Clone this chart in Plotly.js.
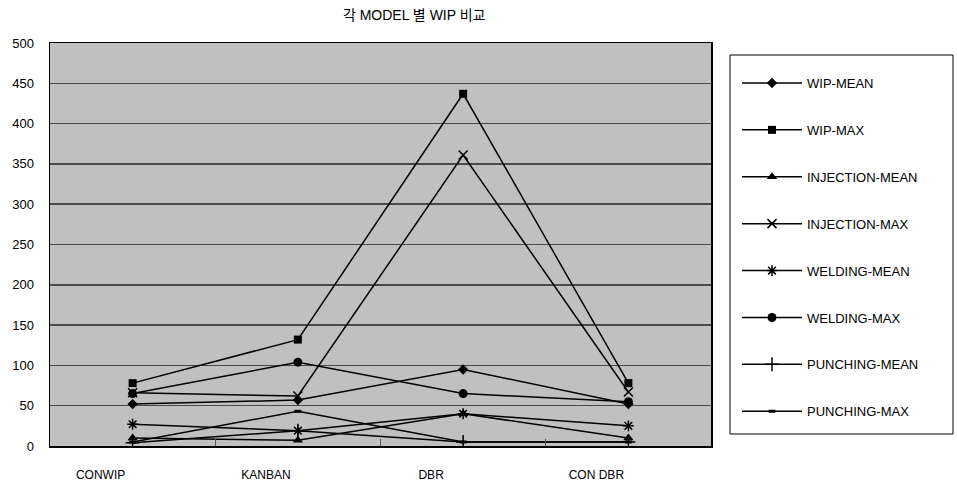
<!DOCTYPE html>
<html>
<head>
<meta charset="utf-8">
<script src="https://cdn.plot.ly/plotly-3.0.1.min.js"></script>
<style>
  html, body { margin: 0; padding: 0; background: #ffffff; }
  #chart { width: 957px; height: 486px; }
</style>
</head>
<body>
<div id="chart"></div>
<script>
// Categories (production control models)
const models = ['CONWIP', 'KANBAN', 'DBR', 'CON DBR'];

// WIP statistics per model
const wipMean        = [52, 57, 95, 52];
const wipMax         = [78, 132, 437, 78];
const injectionMean  = [10, 7, 40, 10];
const injectionMax   = [66, 62, 361, 67];
const weldingMean    = [27, 19, 40, 25];
const weldingMax     = [65, 104, 65, 55];
const punchingMean   = [4, 19, 5, 5];
const punchingMax    = [5, 43, 5, 5];

const seriesNames = ['WIP-MEAN', 'WIP-MAX', 'INJECTION-MEAN', 'INJECTION-MAX',
                     'WELDING-MEAN', 'WELDING-MAX', 'PUNCHING-MEAN', 'PUNCHING-MAX'];
const seriesValues = [wipMean, wipMax, injectionMean, injectionMax,
                      weldingMean, weldingMax, punchingMean, punchingMax];

// Marker style for each series
const markerStyles = [
  { symbol: 'diamond', size: 8 },
  { symbol: 'square', size: 8 },
  { symbol: 'triangle-up', size: 9 },
  { symbol: 'x-thin-open', size: 9, line: { width: 1.5, color: '#000' } },
  { symbol: 'asterisk-open', size: 9, line: { width: 1.5, color: '#000' } },
  { symbol: 'circle', size: 9 },
  { symbol: 'cross-thin-open', size: 10, line: { width: 1.5, color: '#000' } },
  { symbol: 'line-ew-open', size: 5, line: { width: 3, color: '#000' } }
];

const traces = seriesNames.map((name, i) => ({
  type: 'scatter',
  mode: 'lines+markers',
  name: name,
  legendgroup: 'g' + i,
  x: models,
  y: seriesValues[i],
  line: { color: '#000000', width: 1.5 },
  marker: Object.assign({ color: '#000000' }, markerStyles[i]),
  hoverinfo: 'x+y+name'
}));

const layout = {
  width: 957,
  height: 486,
  margin: { l: 50, r: 246, t: 43, b: 40 },
  paper_bgcolor: '#ffffff',
  plot_bgcolor: '#c0c0c0',
  font: { family: 'Liberation Sans, Arial, "Noto Sans CJK KR", sans-serif', size: 12, color: '#000000' },
  title: {
    text: '각 MODEL 별 WIP 비교',
    font: { family: 'Liberation Sans, "Noto Sans CJK KR", sans-serif', size: 14, color: '#000000' },
    x: 0.551, xref: 'paper', xanchor: 'center',
    y: 1 - 15 / 486, yref: 'container', yanchor: 'middle'
  },
  xaxis: {
    type: 'category',
    range: [-0.5, 3.5],
    showgrid: false,
    showline: true, mirror: true, linecolor: '#000000', linewidth: 1.5,
    ticks: 'inside', tickson: 'boundaries', ticklen: 7, tickcolor: '#555555', tickwidth: 1,
    ticklabelshift: -32,
    ticklabelstandoff: 17,
    tickfont: { size: 12 },
    zeroline: false,
    fixedrange: true
  },
  yaxis: {
    range: [0, 500],
    dtick: 50,
    showgrid: true, gridcolor: '#4a4a4a', gridwidth: 1.5,
    showline: true, mirror: true, linecolor: '#000000', linewidth: 1.5,
    ticks: '',
    ticklabelstandoff: 12,
    tickfont: { size: 13 },
    zeroline: false,
    fixedrange: true
  },
  showlegend: true,
  legend: {
    x: (737 - 50) / 661, xanchor: 'left',
    y: (446 - 68) / 403, yanchor: 'top',
    bgcolor: 'rgba(0,0,0,0)',
    borderwidth: 0,
    tracegroupgap: 27,
    itemwidth: 60,
    font: { size: 13 }
  },
  shapes: [{
    type: 'rect', xref: 'paper', yref: 'paper',
    x0: (730 - 50) / 661, x1: (953 - 50) / 661,
    y0: (446 - 434) / 403, y1: (446 - 55) / 403,
    line: { color: '#000000', width: 1 },
    fillcolor: 'rgba(0,0,0,0)',
    layer: 'below'
  }]
};

Plotly.newPlot('chart', traces, layout, { displayModeBar: false, staticPlot: true });
</script>
</body>
</html>
